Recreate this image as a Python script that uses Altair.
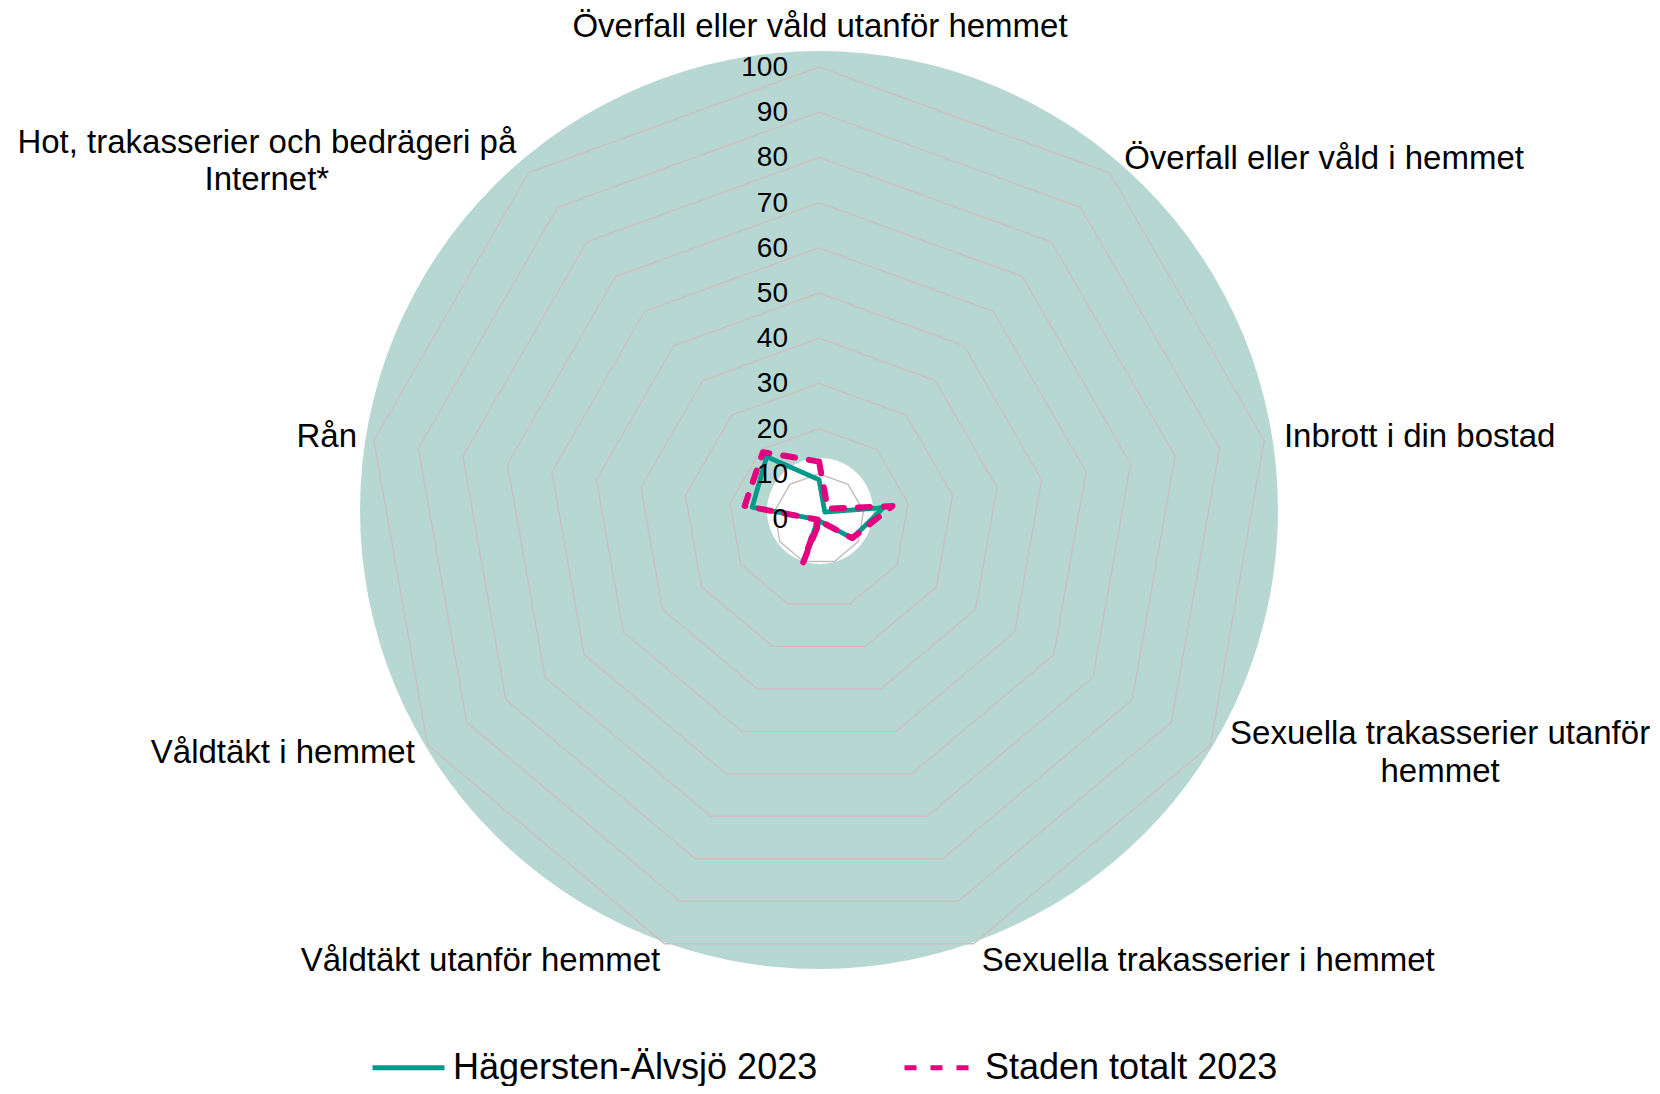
import math
import numpy as np
import pandas as pd
import altair as alt

# ---------------- data ----------------
categories = [
    "Överfall eller våld utanför hemmet",
    "Överfall eller våld i hemmet",
    "Inbrott i din bostad",
    "Sexuella trakasserier utanför hemmet",
    "Sexuella trakasserier i hemmet",
    "Våldtäkt utanför hemmet",
    "Våldtäkt i hemmet",
    "Rån",
    "Hot, trakasserier och bedrägeri på Internet*",
]
category_labels = [
    "Överfall eller våld utanför hemmet",
    "Överfall eller våld i hemmet",
    "Inbrott i din bostad",
    "Sexuella trakasserier utanför\nhemmet",
    "Sexuella trakasserier i hemmet",
    "Våldtäkt utanför hemmet",
    "Våldtäkt i hemmet",
    "Rån",
    "Hot, trakasserier och bedrägeri på\nInternet*",
]
series_names = ["Hägersten-Älvsjö 2023", "Staden totalt 2023"]
hagersten = [8.7, 2.0, 14.5, 8.5, 0.5, 9.5, 0.3, 15.0, 18.0]
staden = [12.7, 3.0, 16.5, 8.5, 0.5, 10.2, 0.3, 16.7, 19.3]
ticks = [0, 10, 20, 30, 40, 50, 60, 70, 80, 90, 100]

# ---------------- layout / style ----------------
W, H = 1644, 1078
PX = 4.52                 # pixels per value unit
CX, CY = 811, 511         # radar centre in chart pixels
XD = [-CX / PX, (W - CX) / PX]
YD = [-(H - CY) / PX, CY / PX]
FONT = "Liberation Sans"
TEAL_BG = "#b7d7d3"
TEAL = "#009a8c"
PINK = "#e5007d"
GRID_ON_TEAL = "#cdbfbf"
GRID_ON_WHITE = "#bfbfbf"
LABEL_R = 104

n = len(categories)
ang = [2 * math.pi * i / n for i in range(n)]

xs = alt.X("x:Q", scale=alt.Scale(domain=XD, nice=False, zero=False), axis=None)
ys = alt.Y("y:Q", scale=alt.Scale(domain=YD, nice=False, zero=False), axis=None)

# background discs (Vega circle size = (2r)^2)
bg = pd.DataFrame({"x": [0.0], "y": [9 / PX]})
bg_layer = alt.Chart(bg).mark_circle(size=(2 * 459) ** 2, color=TEAL_BG, opacity=1).encode(x=xs, y=ys)
wh = pd.DataFrame({"x": [1 / PX], "y": [8 / PX]})
wh_layer = alt.Chart(wh).mark_circle(size=(2 * 53) ** 2, color="white", opacity=1).encode(x=xs, y=ys)

# rings
rows = []
for t in ticks[1:]:
    for k in range(n + 1):
        a = ang[k % n]
        rows.append({"ring": t, "k": k, "x": t * math.sin(a), "y": t * math.cos(a)})
rings = pd.DataFrame(rows)
ring_outer = alt.Chart(rings[rings.ring > 10]).mark_line(color=GRID_ON_TEAL, strokeWidth=1.4).encode(
    x=xs, y=ys, detail="ring:N", order="k:Q")
ring_inner = alt.Chart(rings[rings.ring == 10]).mark_line(color=GRID_ON_WHITE, strokeWidth=1.4).encode(
    x=xs, y=ys, detail="ring:N", order="k:Q")

# series
srows = []
for name, vals in zip(series_names, [hagersten, staden]):
    for k in range(n + 1):
        a = ang[k % n]
        v = vals[k % n]
        srows.append({"series": name, "k": k, "x": v * math.sin(a), "y": v * math.cos(a)})
sdf = pd.DataFrame(srows)

leg = alt.Legend(orient="none", legendX=362, legendY=1021, direction="horizontal",
                 title=None, symbolType="stroke", symbolSize=72 ** 2,
                 symbolStrokeWidth=5, labelFontSize=36, labelFont=FONT,
                 labelColor="black", labelOffset=6, columnPadding=76,
                 padding=0, labelLimit=600)
color_enc = alt.Color("series:N", scale=alt.Scale(domain=series_names, range=[TEAL, PINK]), legend=leg)
dash_enc = alt.StrokeDash("series:N", scale=alt.Scale(domain=series_names, range=[[1, 0], [12, 14]]),
                          legend=leg)

line_teal = alt.Chart(sdf[sdf.series == series_names[0]]).mark_line(
    strokeWidth=4.8, strokeCap="round", strokeJoin="round").encode(
    x=xs, y=ys, order="k:Q", color=color_enc, strokeDash=dash_enc)
line_pink = alt.Chart(sdf[sdf.series == series_names[1]]).mark_line(
    strokeWidth=6, strokeCap="round", strokeJoin="round").encode(
    x=xs, y=ys, order="k:Q", color=color_enc, strokeDash=dash_enc)

# tick labels
tdf = pd.DataFrame({"x": [0.0] * len(ticks), "y": ticks, "t": [str(t) for t in ticks]})
tick_layer = alt.Chart(tdf).mark_text(align="right", baseline="middle", dx=-31, dy=1, fontSize=28,
                                      font=FONT, color="black").encode(x=xs, y=ys, text="t:N")

# category labels
label_style = [
    ("center", 1, -11.5),
    ("left", 3, 10.5),
    ("left", 2, 10),
    ("center", 214, -10),
    ("left", 2, 10),
    ("right", 2, 10),
    ("right", 3, 9),
    ("right", 1, 10),
    ("center", -250, -6),
]
label_layers = []
for i in range(n):
    al, ddx, ddy = label_style[i]
    d = pd.DataFrame({"x": [LABEL_R * math.sin(ang[i])], "y": [LABEL_R * math.cos(ang[i])],
                      "t": [category_labels[i]]})
    label_layers.append(alt.Chart(d).mark_text(align=al, baseline="alphabetic", dx=ddx, dy=ddy,
                                               fontSize=33, font=FONT, color="black",
                                               lineBreak="\n", lineHeight=37.5).encode(
        x=xs, y=ys, text="t:N"))

chart = alt.layer(bg_layer, wh_layer, ring_outer, ring_inner, line_teal, line_pink, tick_layer,
                  *label_layers).properties(
    width=W, height=H, autosize=alt.AutoSizeParams(type="none"), padding=0
).configure(background="white").configure_view(strokeWidth=0)

chart.save("out.html", embed_options={"renderer": "svg", "actions": False})
